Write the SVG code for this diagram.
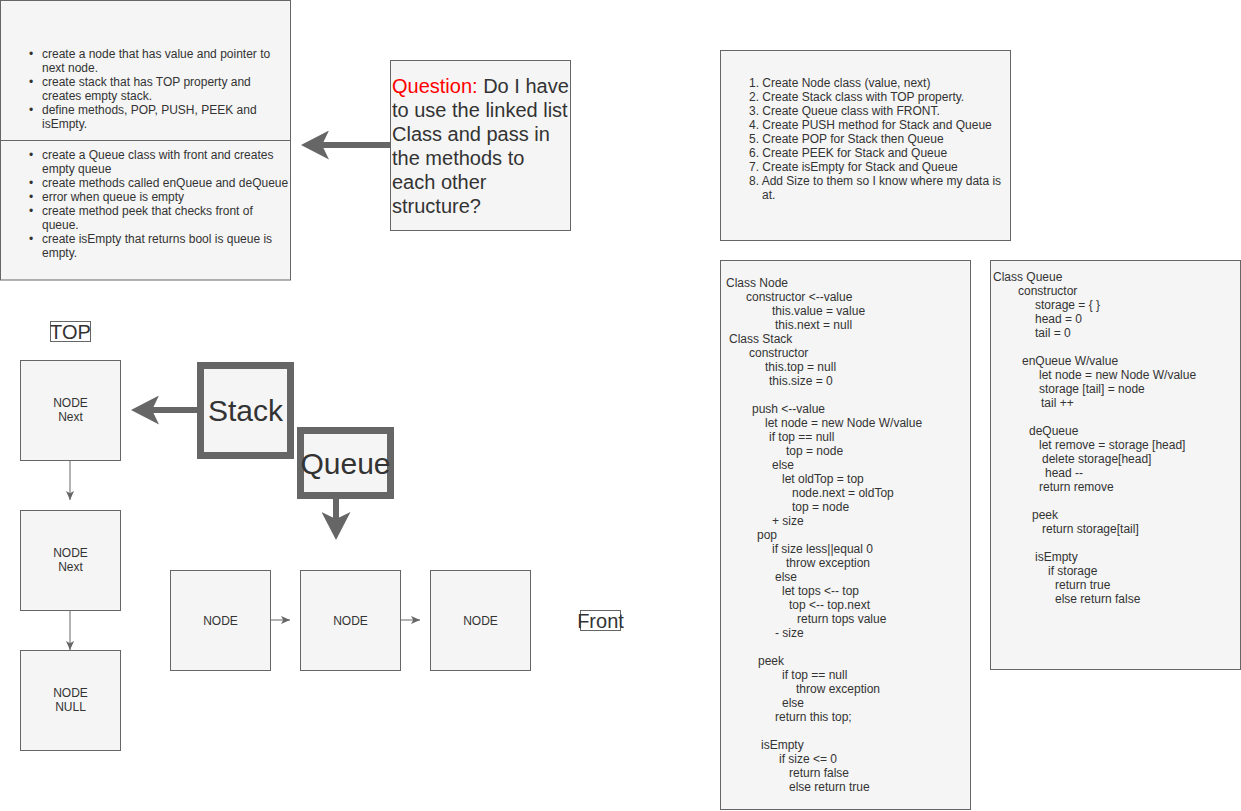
<svg xmlns="http://www.w3.org/2000/svg" width="1241" height="811" viewBox="0 0 1241 811">
<style>
.box{fill:#f5f5f5;stroke:#666666;stroke-width:1}
.thick{fill:#f5f5f5;stroke:#666666;stroke-width:7}
.t{font-family:"Liberation Sans",Arial,sans-serif;font-size:12px;fill:#333333}
.c{text-anchor:middle}
.big{font-family:"Liberation Sans",Arial,sans-serif;font-size:30px;fill:#333333;text-anchor:middle}
.mid{font-family:"Liberation Sans",Arial,sans-serif;font-size:20px;fill:#333333}
.q{font-family:"Liberation Sans",Arial,sans-serif;font-size:20px;fill:#333333}
.lbl{fill:none;stroke:#666666;stroke-width:1}
.thin{stroke:#666666;stroke-width:1;fill:none}
.fat{stroke:#666666;stroke-width:6;fill:none}
</style>
<defs>
<marker id="arr" viewBox="0 0 10 10" refX="10" refY="5" markerWidth="9" markerHeight="9" markerUnits="userSpaceOnUse" orient="auto">
<path d="M0,0.5 L10,5 L0,9.5 L2.5,5 Z" fill="#666666"/>
</marker>
<marker id="big" viewBox="0 0 28 29" refX="7" refY="14.5" markerWidth="28" markerHeight="29" markerUnits="userSpaceOnUse" orient="auto">
<path d="M0,0 L28,14.5 L0,29 L7,14.5 Z" fill="#666666"/>
</marker>
</defs>

<g id="connectors">
<line class="fat" x1="390" y1="145" x2="322" y2="145" marker-end="url(#big)"/>
<line class="fat" x1="200" y1="410" x2="152" y2="410" marker-end="url(#big)"/>
<line class="fat" x1="336" y1="498" x2="336" y2="519" marker-end="url(#big)"/>
<line class="thin" x1="70" y1="460" x2="70" y2="500" marker-end="url(#arr)"/>
<line class="thin" x1="70" y1="610" x2="70" y2="650" marker-end="url(#arr)"/>
<line class="thin" x1="270" y1="620" x2="290" y2="620" marker-end="url(#arr)"/>
<line class="thin" x1="400" y1="620" x2="420" y2="620" marker-end="url(#arr)"/>
</g>

<g id="stack-notes">
<rect class="box" x="0.5" y="0.5" width="290" height="140"/>
<text class="t" x="29" y="58">•</text>
<text class="t" x="42" y="58">create a node that has value and pointer to</text>
<text class="t" x="42" y="72">next node.</text>
<text class="t" x="29" y="86">•</text>
<text class="t" x="42" y="86">create stack that has TOP property and</text>
<text class="t" x="42" y="100">creates empty stack.</text>
<text class="t" x="29" y="114">•</text>
<text class="t" x="42" y="114">define methods, POP, PUSH, PEEK and</text>
<text class="t" x="42" y="128">isEmpty.</text>
</g>

<g id="queue-notes">
<rect class="box" x="0.5" y="140.5" width="290" height="139.5"/>
<text class="t" x="29" y="159">•</text>
<text class="t" x="42" y="159">create a Queue class with front and creates</text>
<text class="t" x="42" y="173">empty queue</text>
<text class="t" x="29" y="187">•</text>
<text class="t" x="42" y="187">create methods called enQueue and deQueue</text>
<text class="t" x="29" y="201">•</text>
<text class="t" x="42" y="201">error when queue is empty</text>
<text class="t" x="29" y="215">•</text>
<text class="t" x="42" y="215">create method peek that checks front of</text>
<text class="t" x="42" y="229">queue.</text>
<text class="t" x="29" y="243">•</text>
<text class="t" x="42" y="243">create isEmpty that returns bool is queue is</text>
<text class="t" x="42" y="257">empty.</text>
</g>

<g id="question">
<rect class="box" x="390.5" y="60.5" width="180" height="170"/>
<text class="q" x="392" y="93"><tspan fill="#ff0000">Question:</tspan> Do I have</text>
<text class="q" x="392" y="117">to use the linked list</text>
<text class="q" x="392" y="141">Class and pass in</text>
<text class="q" x="392" y="165">the methods to</text>
<text class="q" x="392" y="189">each other</text>
<text class="q" x="392" y="213">structure?</text>
</g>

<g id="plan">
<rect class="box" x="720.5" y="50.5" width="290" height="190"/>
<text class="t" x="749" y="87">1. Create Node class (value, next)</text>
<text class="t" x="749" y="101">2. Create Stack class with TOP property.</text>
<text class="t" x="749" y="115">3. Create Queue class with FRONT.</text>
<text class="t" x="749" y="129">4. Create PUSH method for Stack and Queue</text>
<text class="t" x="749" y="143">5. Create POP for Stack then Queue</text>
<text class="t" x="749" y="157">6. Create PEEK for Stack and Queue</text>
<text class="t" x="749" y="171">7. Create isEmpty for Stack and Queue</text>
<text class="t" x="749" y="185">8. Add Size to them so I know where my data is</text>
<text class="t" x="762" y="199">at.</text>
</g>

<g id="stack-code">
<rect class="box" x="720.5" y="260.5" width="250" height="549"/>
<text class="t" x="726" y="287">Class Node</text>
<text class="t" x="746" y="301">constructor &lt;--value</text>
<text class="t" x="772" y="315">this.value = value</text>
<text class="t" x="775" y="329">this.next = null</text>
<text class="t" x="729" y="343">Class Stack</text>
<text class="t" x="749" y="357">constructor</text>
<text class="t" x="765" y="371">this.top = null</text>
<text class="t" x="769" y="385">this.size = 0</text>
<text class="t" x="752" y="413">push &lt;--value</text>
<text class="t" x="765" y="427">let node = new Node W/value</text>
<text class="t" x="769" y="441">if top == null</text>
<text class="t" x="786" y="455">top = node</text>
<text class="t" x="772" y="469">else</text>
<text class="t" x="782" y="483">let oldTop = top</text>
<text class="t" x="792" y="497">node.next = oldTop</text>
<text class="t" x="792" y="511">top = node</text>
<text class="t" x="772" y="525">+ size</text>
<text class="t" x="757" y="539">pop</text>
<text class="t" x="772" y="553">if size less||equal 0</text>
<text class="t" x="786" y="567">throw exception</text>
<text class="t" x="775" y="581">else</text>
<text class="t" x="782" y="595">let tops &lt;-- top</text>
<text class="t" x="789" y="609">top &lt;-- top.next</text>
<text class="t" x="797" y="623">return tops value</text>
<text class="t" x="775" y="637">- size</text>
<text class="t" x="758" y="665">peek</text>
<text class="t" x="782" y="679">if top == null</text>
<text class="t" x="796" y="693">throw exception</text>
<text class="t" x="782" y="707">else</text>
<text class="t" x="775" y="721">return this top;</text>
<text class="t" x="761" y="749">isEmpty</text>
<text class="t" x="779" y="763">if size &lt;= 0</text>
<text class="t" x="789" y="777">return false</text>
<text class="t" x="789" y="791">else return true</text>
</g>

<g id="queue-code">
<rect class="box" x="990.5" y="260.5" width="250" height="409"/>
<text class="t" x="993" y="281">Class Queue</text>
<text class="t" x="1018" y="295">constructor</text>
<text class="t" x="1035" y="309">storage = { }</text>
<text class="t" x="1035" y="323">head = 0</text>
<text class="t" x="1035" y="337">tail = 0</text>
<text class="t" x="1022" y="365">enQueue W/value</text>
<text class="t" x="1039" y="379">let node = new Node W/value</text>
<text class="t" x="1039" y="393">storage [tail] = node</text>
<text class="t" x="1041" y="407">tail ++</text>
<text class="t" x="1029" y="435">deQueue</text>
<text class="t" x="1039" y="449">let remove = storage [head]</text>
<text class="t" x="1042" y="463">delete storage[head]</text>
<text class="t" x="1045" y="477">head --</text>
<text class="t" x="1039" y="491">return remove</text>
<text class="t" x="1032" y="519">peek</text>
<text class="t" x="1042" y="533">return storage[tail]</text>
<text class="t" x="1035" y="561">isEmpty</text>
<text class="t" x="1048" y="575">if storage</text>
<text class="t" x="1055" y="589">return true</text>
<text class="t" x="1055" y="603">else return false</text>
</g>

<g id="top-label">
<rect class="lbl" x="50.5" y="321.5" width="40" height="20"/>
<text class="mid" x="70.5" y="338.5" text-anchor="middle">TOP</text>
</g>

<g id="stack-node-1">
<rect class="box" x="20.5" y="360.5" width="100" height="100"/>
<text class="t c" x="70.5" y="407">NODE</text>
<text class="t c" x="70.5" y="421">Next</text>
</g>
<g id="stack-node-2">
<rect class="box" x="20.5" y="510.5" width="100" height="100"/>
<text class="t c" x="70.5" y="557">NODE</text>
<text class="t c" x="70.5" y="571">Next</text>
</g>
<g id="stack-node-3">
<rect class="box" x="20.5" y="650.5" width="100" height="100"/>
<text class="t c" x="70.5" y="697">NODE</text>
<text class="t c" x="70.5" y="711">NULL</text>
</g>

<g id="stack">
<rect class="thick" x="200.5" y="365.5" width="90" height="90"/>
<text class="big" x="245.5" y="421">Stack</text>
</g>
<g id="queue">
<rect class="thick" x="300.5" y="430.5" width="90" height="65"/>
<text class="big" x="345.5" y="474">Queue</text>
</g>

<g id="queue-node-1">
<rect class="box" x="170.5" y="570.5" width="100" height="100"/>
<text class="t c" x="220.5" y="625">NODE</text>
</g>
<g id="queue-node-2">
<rect class="box" x="300.5" y="570.5" width="100" height="100"/>
<text class="t c" x="350.5" y="625">NODE</text>
</g>
<g id="queue-node-3">
<rect class="box" x="430.5" y="570.5" width="100" height="100"/>
<text class="t c" x="480.5" y="625">NODE</text>
</g>

<g id="front-label">
<rect class="lbl" x="580.5" y="610.5" width="40" height="20"/>
<text class="mid" x="600.5" y="628" text-anchor="middle">Front</text>
</g>
</svg>
